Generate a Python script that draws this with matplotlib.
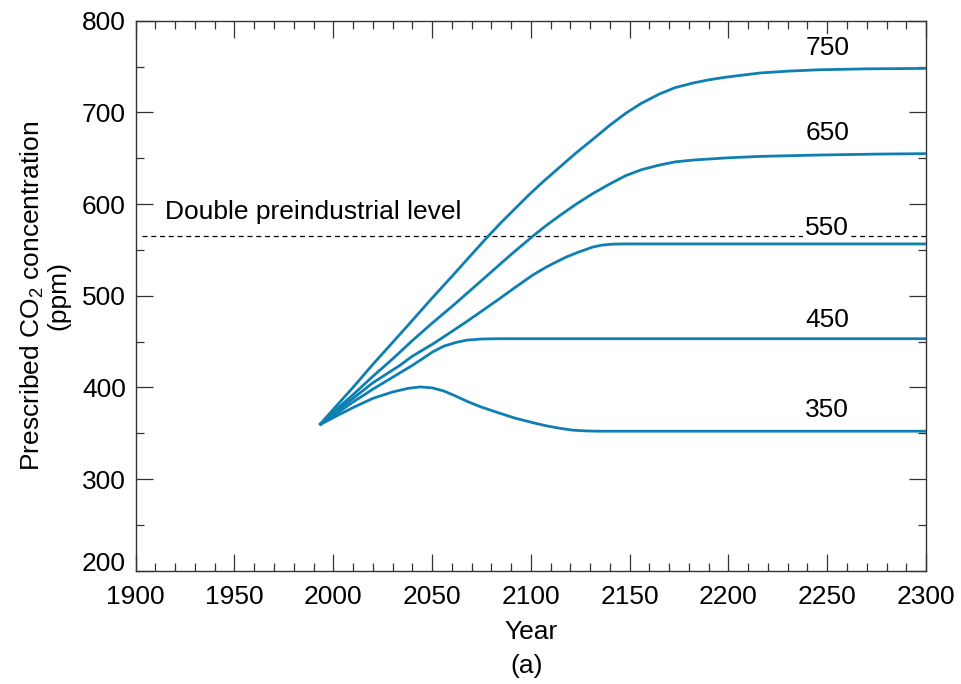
import matplotlib
matplotlib.use('Agg')
import matplotlib.pyplot as plt
from matplotlib.ticker import MultipleLocator

plt.rcParams['font.family'] = ['Liberation Sans', 'DejaVu Sans']
plt.rcParams['mathtext.fontset'] = 'custom'
plt.rcParams['mathtext.rm'] = 'Liberation Sans'
plt.rcParams['mathtext.default'] = 'regular'

# ── Data ─────────────────────────────────────────────────────────────────────
yr_350  = [1993, 2000, 2010, 2020, 2030, 2038, 2044, 2050, 2056, 2062, 2068,
           2075, 2084, 2092, 2101, 2108, 2115, 2121, 2128, 2135, 2300]
ppm_350 = [359, 367, 378, 388, 395, 399, 400.5, 399.5, 396, 390.5, 384.5,
           378.5, 372, 366.5, 361.5, 358, 355.3, 353.4, 352.5, 352.2, 352.2]

yr_450  = [1993, 2000, 2010, 2020, 2030, 2040, 2046, 2050.5, 2056, 2062,
           2067.4, 2075, 2084, 2300]
ppm_450 = [359, 369, 384, 398, 411, 424, 432.5, 439, 445, 449,
           451.5, 452.8, 453.1, 453.1]

yr_550  = [1993, 2000, 2010, 2020, 2033.7, 2040, 2050.5, 2060, 2067.4, 2075,
           2084.3, 2092, 2101, 2108, 2113, 2118, 2124, 2131.5, 2136, 2141.6,
           2148, 2300]
ppm_550 = [359, 371, 388, 405, 424, 434, 447.5, 461, 471.6, 483,
           497, 509, 522.6, 531.5, 537, 542.3, 547.5, 553.2, 555.2, 556.3,
           556.5, 556.5]

yr_650  = [1993, 2000, 2010, 2020, 2030, 2040, 2050, 2061, 2070, 2080, 2090,
           2101, 2108, 2115, 2123, 2131, 2140, 2148, 2156, 2165, 2173, 2182,
           2200, 2216, 2246, 2275, 2300]
ppm_650 = [359, 373, 392, 412, 431, 451, 470, 490, 507, 526, 545,
           565, 577, 588, 600, 611, 622, 631, 637.5, 642.5, 646, 648,
           650.5, 652, 653.5, 654.5, 655]

yr_750  = [1993, 2000, 2010, 2020, 2030, 2040, 2049, 2060, 2070, 2078, 2085,
           2092, 2099, 2106, 2115, 2123, 2131, 2140, 2148, 2156, 2165, 2173,
           2182, 2190, 2199, 2216, 2230, 2246, 2270, 2300]
ppm_750 = [359, 376, 400, 425, 449, 473, 495, 521, 545, 564, 580,
           595, 610, 624, 641, 656, 670, 686, 699, 710, 720, 727,
           732, 735.5, 738.5, 743, 745, 746.5, 747.5, 748]

series = [(yr_350, ppm_350), (yr_450, ppm_450), (yr_550, ppm_550),
          (yr_650, ppm_650), (yr_750, ppm_750)]
curve_labels = ['350', '450', '550', '650', '750']
label_ppm    = [375, 473, 574, 677, 770]
label_year   = 2250

double_level = 565

LINE_COLOR = '#0f7fb2'
FS = 19

# ── Figure ───────────────────────────────────────────────────────────────────
fig = plt.figure(figsize=(9.61, 6.84), dpi=100)
ax = fig.add_axes([0.1412, 0.1656, 0.8224, 0.8041])

ax.plot([1903, 2300], [double_level, double_level], color='black',
        linestyle=(0, (4, 3)), linewidth=0.9, zorder=2)
ax.text(1915, 591, 'Double preindustrial level', fontsize=FS,
        ha='left', va='center')

for (yrs, vals) in series:
    ax.plot(yrs, vals, color=LINE_COLOR, linewidth=2.0, zorder=3,
            solid_capstyle='butt')

for lab, yv in zip(curve_labels, label_ppm):
    ax.text(label_year, yv, lab, fontsize=FS, ha='center', va='center',
            zorder=4,
            bbox=dict(facecolor='white', edgecolor='none', pad=1.5))

ax.set_xlim(1900, 2300)
ax.set_ylim(200, 800)
ax.xaxis.set_major_locator(MultipleLocator(50))
ax.xaxis.set_minor_locator(MultipleLocator(10))
ax.yaxis.set_major_locator(MultipleLocator(100))
ax.yaxis.set_minor_locator(MultipleLocator(50))

ax.tick_params(which='both', direction='in', top=True, right=True,
               labelsize=FS, color='#333333', width=0.9)
ax.tick_params(axis='x', which='major', length=12, pad=10)
ax.tick_params(axis='y', which='major', length=12, pad=7)
ax.tick_params(which='minor', length=6)

for sp in ax.spines.values():
    sp.set_linewidth(1.0)
    sp.set_color('#333333')

ax.set_xlabel('Year', fontsize=FS, labelpad=8)
ax.set_ylabel('Prescribed CO$_2$ concentration\n(ppm)', fontsize=FS,
              labelpad=8, linespacing=1.05)

fig.text(0.548, 0.027, '(a)', fontsize=FS, ha='center', va='center')

# lift the lowest y label so it clears the "1900" below it
fig.canvas.draw()
for tick in ax.yaxis.get_major_ticks():
    if abs(tick.get_loc() - 200) < 1e-6:
        tick.label1.set_verticalalignment('baseline')

fig.savefig('out.png', dpi=100)
